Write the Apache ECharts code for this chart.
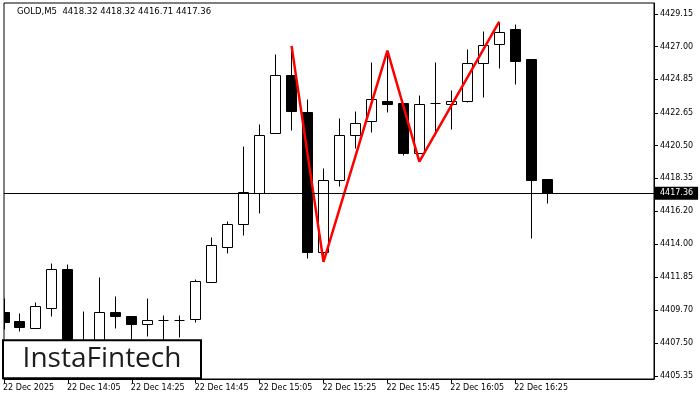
<!DOCTYPE html>
<html><head><meta charset="utf-8">
<script src="https://cdn.jsdelivr.net/npm/echarts@6/dist/echarts.min.js"></script>
<style>html,body{margin:0;padding:0;background:#fff}#c{width:700px;height:400px}</style>
</head><body><div id="c"></div>
<script>
// ---- data ----
const times = ["13:45","13:50","13:55","14:00","14:05","14:10","14:15","14:20","14:25","14:30","14:35","14:40","14:45","14:50","14:55","15:00","15:05","15:10","15:15","15:20","15:25","15:30","15:35","15:40","15:45","15:50","15:55","16:00","16:05","16:10","16:15","16:20","16:25","16:30","16:35"];
const opens  = [4409.58,4408.97,4408.49,4409.80,4412.37,4406.70,4407.10,4409.54,4409.30,4408.75,4409.01,4409.05,4409.08,4411.55,4413.85,4415.32,4417.36,4421.31,4425.14,4422.71,4413.48,4418.22,4421.18,4422.10,4423.42,4423.30,4420.03,4423.28,4423.21,4423.42,4425.91,4427.16,4428.16,4426.19,4418.32];
const highs  = [4410.46,4409.49,4410.22,4412.80,4412.71,4409.62,4411.88,4410.61,4409.30,4410.46,4409.36,4409.36,4411.73,4414.47,4415.54,4420.47,4421.92,4426.52,4427.05,4423.56,4419.03,4422.33,4422.79,4425.99,4426.60,4423.30,4423.80,4425.99,4424.14,4426.85,4428.03,4428.64,4428.49,4426.19,4418.32];
const lows   = [4408.42,4408.33,4408.49,4409.31,4405.90,4406.00,4406.80,4408.53,4407.60,4407.98,4407.60,4407.93,4408.92,4411.55,4413.46,4414.64,4416.09,4421.31,4421.52,4413.09,4413.30,4417.86,4420.36,4421.41,4422.73,4419.88,4419.99,4421.41,4421.57,4423.35,4423.71,4425.62,4424.57,4414.44,4416.71];
const closes = [4408.92,4408.59,4409.95,4412.37,4406.60,4407.10,4409.54,4409.31,4408.75,4409.01,4409.01,4409.05,4411.60,4413.96,4415.32,4417.43,4421.18,4425.14,4422.79,4413.52,4418.22,4421.19,4421.96,4423.56,4423.21,4420.03,4423.21,4423.28,4423.42,4425.91,4427.11,4427.95,4426.08,4418.26,4417.36];

const patternIdx   = [18, 20, 24, 26, 31];
const patternPrice = [4427.05, 4412.85, 4426.74, 4419.44, 4428.64];

const lastPrice = 4417.36;

const xTickIdx    = [0, 4, 8, 12, 16, 20, 24, 28, 32];
const xTickLabels = ["22 Dec 2025","22 Dec 14:05","22 Dec 14:25","22 Dec 14:45","22 Dec 15:05","22 Dec 15:25","22 Dec 15:45","22 Dec 16:05","22 Dec 16:25"];
const yTicks = [4405.35,4407.50,4409.70,4411.85,4414.00,4416.20,4418.35,4420.50,4422.65,4424.85,4427.00,4429.15];

const headerText = "GOLD,M5  4418.32 4418.32 4416.71 4417.36";
const logoText = "InstaFintech";

// ---- chart ----
const FONT = "'DejaVu Sans', sans-serif";
const chart = echarts.init(document.getElementById('c'), null, {renderer: 'canvas'});
const candleData = times.map((t, i) => [i, opens[i], closes[i], lows[i], highs[i]]);
const patternData = patternIdx.map((x, k) => [x, patternPrice[k]]);

function renderCandle(params, api) {
  const i = api.value(0), o = api.value(1), c = api.value(2), l = api.value(3), h = api.value(4);
  const pO = api.coord([i, o]), pC = api.coord([i, c]), pL = api.coord([i, l]), pH = api.coord([i, h]);
  const cx = Math.floor(pO[0]) + 0.5;
  const bull = c >= o;
  const top = Math.round(Math.min(pO[1], pC[1])) + 0.5;
  const bot = Math.round(Math.max(pO[1], pC[1])) + 0.5;
  const yH = Math.round(pH[1]) + 0.5, yL = Math.round(pL[1]) + 0.5;
  const children = [
    {type: 'line', shape: {x1: cx, y1: yH, x2: cx, y2: yL}, style: {stroke: '#000', lineWidth: 1}}
  ];
  if (bot - top < 1) {
    children.push({type: 'line', shape: {x1: cx - 5, y1: top, x2: cx + 5, y2: top}, style: {stroke: '#000', lineWidth: 1}});
  } else {
    children.push({type: 'rect', shape: {x: cx - 5, y: top, width: 10, height: bot - top},
      style: {fill: bull ? '#fff' : '#000', stroke: '#000', lineWidth: 1}});
  }
  return {type: 'group', children};
}

const xLabelMap = {};
xTickIdx.forEach((v, k) => { xLabelMap[v] = xTickLabels[k]; });

chart.setOption({
  animation: false,
  backgroundColor: '#fff',
  grid: {left: 3, right: 46, top: 3, bottom: 21, show: true, borderColor: '#000', borderWidth: 1, backgroundColor: 'transparent'},
  xAxis: {
    type: 'value', min: 0, max: 40.6875,
    axisLine: {show: true, onZero: false, lineStyle: {color: '#000', width: 1}},
    axisTick: {show: true, customValues: xTickIdx, length: 4, lineStyle: {color: '#000'}},
    axisLabel: {customValues: xTickIdx, formatter: v => xLabelMap[Math.round(v)] || '', align: 'left',
      color: '#000', fontFamily: FONT, fontSize: 8, margin: 5, padding: [0, 0, 0, -1]},
    splitLine: {show: false}
  },
  yAxis: {
    type: 'value', position: 'right', min: 4405.15, max: 4429.87,
    axisLine: {show: true, onZero: false, lineStyle: {color: '#000', width: 1}},
    axisTick: {show: true, customValues: yTicks, length: 4, lineStyle: {color: '#000'}},
    axisLabel: {customValues: yTicks, formatter: v => v.toFixed(2), color: '#000', fontFamily: FONT, fontSize: 8, margin: 6},
    splitLine: {show: false}
  },
  series: [
    {type: 'custom', name: 'GOLD', renderItem: renderCandle, data: candleData, clip: true, z: 2,
      encode: {x: 0, y: [1, 2, 3, 4]}},
    {type: 'line', name: 'last', data: [], clip: false, z: 3, symbol: 'none',
      markLine: {silent: true, symbol: ['none', 'none'], animation: false,
        data: [{yAxis: lastPrice}],
        lineStyle: {color: '#000', width: 1, type: 'solid'},
        label: {show: true, position: 'end', formatter: lastPrice.toFixed(2), color: '#fff', backgroundColor: '#000',
          padding: [3, 5, 2, 5], distance: 1, fontSize: 8, fontFamily: FONT}}},
    {type: 'line', name: 'pattern', data: patternData, symbol: 'none', z: 4,
      lineStyle: {color: '#ff0000', width: 2.5}}
  ],
  graphic: [
    {type: 'text', x: 17, y: 11.5, z: 100, style: {text: headerText, font: "8.5px " + FONT, fill: '#000', verticalAlign: 'middle'}},
    {type: 'rect', z: 100, shape: {x: 3, y: 340.3, width: 198, height: 38}, style: {fill: '#fff', stroke: '#000', lineWidth: 2}},
    {type: 'text', z: 101, x: 102, y: 359.5, style: {text: logoText, font: "500 28px 'Open Sans', sans-serif", fill: '#1c1c1c', align: 'center', verticalAlign: 'middle'}}
  ]
});
</script>
</body></html>
